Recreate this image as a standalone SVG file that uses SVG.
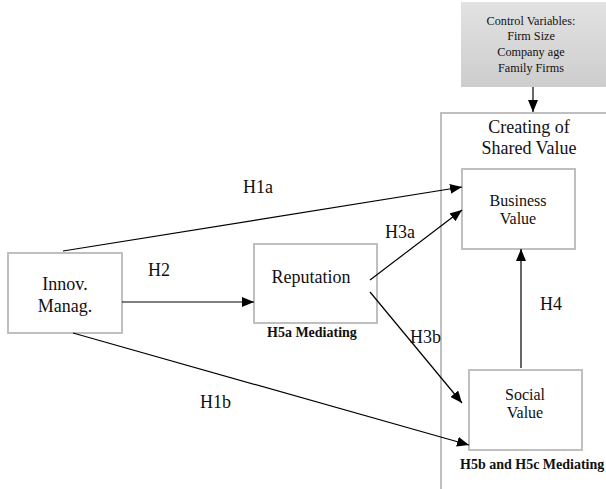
<svg xmlns="http://www.w3.org/2000/svg" width="606" height="489" viewBox="0 0 606 489">
<defs>
<linearGradient id="g" x1="0" y1="0" x2="0" y2="1">
<stop offset="0" stop-color="#e2e2e2"/>
<stop offset="1" stop-color="#cdcdcd"/>
</linearGradient>
<marker id="ah" markerWidth="12" markerHeight="10" refX="12" refY="5" orient="auto" markerUnits="userSpaceOnUse">
<path d="M0,0 L12,5 L0,10 Z" fill="#000"/>
</marker>
<style>
.box{fill:#fff;stroke:#bfbfbf;stroke-width:2}
.t{font-family:"Liberation Serif","Times New Roman",serif;fill:#111;text-anchor:middle}
.l{font-family:"Liberation Serif","Times New Roman",serif;fill:#111;font-size:18px}
.b{font-family:"Liberation Serif","Times New Roman",serif;fill:#111;font-size:14px;font-weight:bold}
.c{stroke:#000;stroke-width:1.2;fill:none;marker-end:url(#ah)}
</style>
</defs>
<rect width="606" height="489" fill="#fff"/>
<g id="control">
<rect x="461" y="2" width="145" height="85" fill="url(#g)"/>
<text class="t" font-size="12.2" x="531" y="25">Control Variables:</text>
<text class="t" font-size="12.2" x="531" y="40">Firm Size</text>
<text class="t" font-size="12.2" x="531" y="56">Company age</text>
<text class="t" font-size="12.2" x="531" y="72">Family Firms</text>
</g>
<g id="shared">
<path d="M441,489 L441,113 L606,113" fill="none" stroke="#bfbfbf" stroke-width="2"/>
<text class="t" font-size="18" x="529" y="133">Creating of</text>
<text class="t" font-size="18" x="529" y="154">Shared Value</text>
</g>
<g id="business">
<rect class="box" x="462" y="169" width="113" height="80"/>
<text class="t" font-size="16" x="518" y="206">Business</text>
<text class="t" font-size="16" x="518" y="224">Value</text>
</g>
<g id="social">
<rect class="box" x="469" y="370" width="113" height="80"/>
<text class="t" font-size="16" x="525" y="400">Social</text>
<text class="t" font-size="16" x="525" y="418">Value</text>
<text class="b" x="460" y="469">H5b and H5c Mediating</text>
</g>
<g id="innov">
<rect class="box" x="8" y="253" width="114" height="80"/>
<text class="t" font-size="18" x="65" y="290">Innov.</text>
<text class="t" font-size="18" x="65" y="312">Manag.</text>
</g>
<g id="reputation">
<rect class="box" x="254" y="244" width="123" height="79"/>
<text class="t" font-size="18" x="311" y="283">Reputation</text>
<text class="b" x="267" y="337">H5a Mediating</text>
</g>
<g id="connectors">
<line class="c" x1="533" y1="87" x2="533" y2="112"/>
<line class="c" x1="63" y1="251" x2="462" y2="187"/>
<line class="c" x1="122" y1="302" x2="254" y2="302"/>
<line class="c" x1="370" y1="280" x2="462" y2="210"/>
<line class="c" x1="370" y1="292" x2="462" y2="403"/>
<line class="c" x1="73" y1="333" x2="469" y2="445"/>
<line class="c" x1="521" y1="368" x2="521" y2="249"/>
<text class="l" x="243" y="193">H1a</text>
<text class="l" x="148" y="276">H2</text>
<text class="l" x="385" y="238">H3a</text>
<text class="l" x="410" y="343">H3b</text>
<text class="l" x="540" y="310">H4</text>
<text class="l" x="200" y="408">H1b</text>
</g>
</svg>
